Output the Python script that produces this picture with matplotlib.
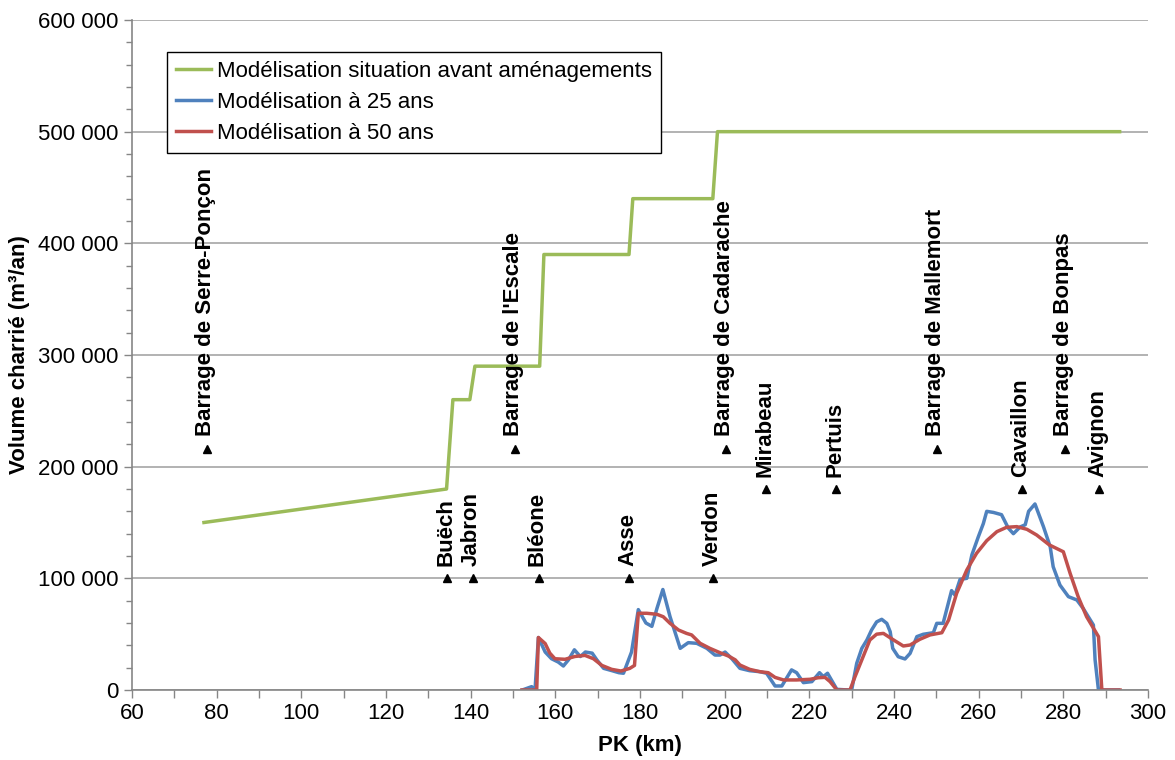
import matplotlib
matplotlib.use("Agg")
import matplotlib.pyplot as plt
from matplotlib.ticker import MultipleLocator, FuncFormatter

plt.rcParams['font.family'] = ['Liberation Sans', 'DejaVu Sans']

# ---- data ----
# situation before works (green)
pk_avant = [77, 134.3, 135.8, 139.8, 141.0, 156.3, 157.3, 177.4, 178.3, 197.2, 198.3, 293.3]
vol_avant = [150000, 180000, 260000, 260000, 290000, 290000, 390000, 390000, 440000, 440000, 500000, 500000]

# 25 years (blue)
pk_25 = [152.2, 154.4, 155.2, 156.0, 157.6, 159.1, 160.7, 161.9, 163.1, 164.5, 165.9, 167.1,
         168.7, 169.8, 171.4, 173.4, 175.0, 176.1, 177.0, 178.0, 179.6, 181.4, 182.8, 184.0,
         185.4, 187.1, 189.5, 191.4, 193.4, 195.8, 197.7, 198.9, 200.1, 201.7, 203.6, 205.9,
         208.3, 209.9, 211.9, 213.5, 215.8, 217.0, 218.6, 220.6, 222.4, 223.3, 224.3, 226.5,
         229.2, 230.0, 231.2, 232.4, 233.6, 234.7, 235.9, 237.1, 238.3, 239.1, 239.7, 241.0,
         242.6, 243.8, 245.4, 246.9, 249.3, 250.1, 251.6, 253.6, 254.4, 255.6, 257.2, 258.4,
         259.9, 261.1, 261.9, 263.5, 265.4, 267.0, 268.2, 269.8, 271.0, 271.8, 273.3, 275.3,
         276.9, 277.6, 279.2, 281.2, 283.2, 284.7, 287.1, 287.5, 288.3, 293.0]
vol_25 = [0, 3000, 0, 47000, 34000, 28000, 25000, 21500, 27000, 36000, 30000, 34000,
          33000, 27000, 19400, 17300, 15500, 15000, 24000, 34000, 72000, 60000, 57000, 73000,
          90000, 65600, 37300, 42400, 41800, 37300, 31300, 31300, 34000, 28000, 19400, 17300,
          16400, 15000, 3600, 3600, 18000, 15500, 6600, 7500, 15500, 12000, 15000, 600,
          0, 0, 24000, 37300, 44800, 53700, 61000, 63300, 59700, 52200, 37300, 29800,
          27800, 32800, 47800, 49900, 51300, 59700, 59700, 89000, 85000, 99000, 100000, 121000,
          137000, 149000, 160000, 159000, 157000, 145000, 140000, 146000, 148000, 160000, 166600, 146300,
          128300, 110400, 94000, 83600, 80600, 73000, 58200, 27000, 0, 0]

# 50 years (red)
pk_50 = [152.1, 155.6, 156.0, 157.6, 158.7, 159.9, 162.3, 164.6, 167.0, 169.0, 171.0, 173.3,
         175.5, 177.6, 178.7, 179.6, 181.6, 184.0, 185.5, 187.1, 189.1, 191.0, 192.2, 194.2,
         196.5, 198.9, 200.9, 202.5, 203.6, 205.9, 208.3, 210.3, 211.9, 213.9, 217.0, 220.2,
         222.1, 223.7, 224.9, 226.5, 229.6, 230.8, 232.4, 234.3, 235.9, 237.5, 239.9, 242.2,
         243.8, 246.1, 248.5, 251.3, 252.9, 254.8, 257.2, 259.5, 261.9, 264.3, 266.6, 269.0,
         271.4, 273.7, 276.7, 280.0, 281.6, 283.5, 285.5, 288.3, 289.1, 293.4]
vol_50 = [0, 0, 47000, 41600, 33000, 28000, 27500, 30000, 31000, 28000, 22000, 18500,
          17000, 19400, 22000, 68700, 68700, 67800, 65600, 59700, 53700, 50700, 49300, 41800,
          37300, 33400, 30400, 27000, 22400, 18500, 16400, 15500, 11300, 9000, 9000, 9600,
          11000, 11300, 7500, 0, 0, 12000, 27000, 44800, 50000, 50700, 44800, 39400,
          40300, 45400, 49300, 51300, 62700, 86600, 107500, 122400, 133700, 141800, 145700, 146300,
          143900, 138800, 129900, 123800, 104500, 83600, 65600, 47800, 0, 0]

# landmarks along the river
sites = ['Buëch', 'Jabron', 'Bléone', 'Asse', 'Verdon',
         'Mirabeau', 'Pertuis', 'Cavaillon', 'Avignon',
         'Barrage de Serre-Ponçon', "Barrage de l'Escale", 'Barrage de Cadarache',
         'Barrage de Mallemort', 'Barrage de Bonpas']
sites_pk = [134.4, 140.5, 156.1, 177.4, 197.3,
            209.8, 226.3, 270.3, 288.4,
            77.7, 150.5, 200.3, 250.2, 280.4]
sites_y = [100000, 100000, 100000, 100000, 100000,
           180000, 180000, 180000, 180000,
           216000, 216000, 216000, 216000, 216000]

GREEN = '#9bbb59'
BLUE = '#4f81bd'
RED = '#c0504d'
GREY = '#a6a6a6'
FS = 16

fig = plt.figure(figsize=(11.75, 7.6), dpi=100)
ax = fig.add_axes([132 / 1175, 70 / 760, 1016 / 1175, 670 / 760])

ax.plot(pk_avant, vol_avant, color=GREEN, lw=2.5, label='Modélisation situation avant aménagements')
ax.plot(pk_25, vol_25, color=BLUE, lw=2.5, label='Modélisation à 25 ans')
ax.plot(pk_50, vol_50, color=RED, lw=2.5, label='Modélisation à 50 ans')

ax.plot(sites_pk, sites_y, ls='none', marker='^', color='black', ms=6)
for name, x, y in zip(sites, sites_pk, sites_y):
    ax.annotate(name, (x, y), xytext=(-1, 9), textcoords='offset points',
                rotation=90, ha='center', va='bottom', fontsize=FS, fontweight='bold')

ax.set_xlim(60, 300)
ax.set_ylim(0, 600000)
ax.xaxis.set_major_locator(MultipleLocator(20))
ax.xaxis.set_minor_locator(MultipleLocator(10))
ax.yaxis.set_major_locator(MultipleLocator(100000))
ax.yaxis.set_minor_locator(MultipleLocator(20000))
ax.yaxis.set_major_formatter(FuncFormatter(lambda v, p: f'{int(v):,}'.replace(',', ' ')))

ax.grid(axis='y', which='major', color=GREY, lw=1.2)
ax.set_axisbelow(True)
for s in ['top', 'right']:
    ax.spines[s].set_visible(False)
for s in ['left', 'bottom']:
    ax.spines[s].set_color('#868686')
    ax.spines[s].set_linewidth(1.2)
ax.tick_params(which='both', direction='out', color='#868686', labelsize=FS, width=1)
ax.tick_params(which='major', length=6)
ax.tick_params(axis='x', which='minor', length=6)
ax.tick_params(axis='y', which='minor', length=4)

ax.set_xlabel('PK (km)', fontsize=FS, fontweight='bold', labelpad=8)
ax.set_ylabel('Volume charrié (m³/an)', fontsize=FS, fontweight='bold', labelpad=6)

leg = ax.legend(loc='upper left', bbox_to_anchor=(167 / 1175, 1 - 52 / 760),
                bbox_transform=fig.transFigure, fontsize=FS, frameon=True,
                fancybox=False, edgecolor='black', framealpha=1,
                handlelength=1.6, handletextpad=0.25, labelspacing=0.45,
                borderpad=0.4, borderaxespad=0)
leg.get_frame().set_linewidth(1.0)

fig.savefig('out.png', dpi=100)
